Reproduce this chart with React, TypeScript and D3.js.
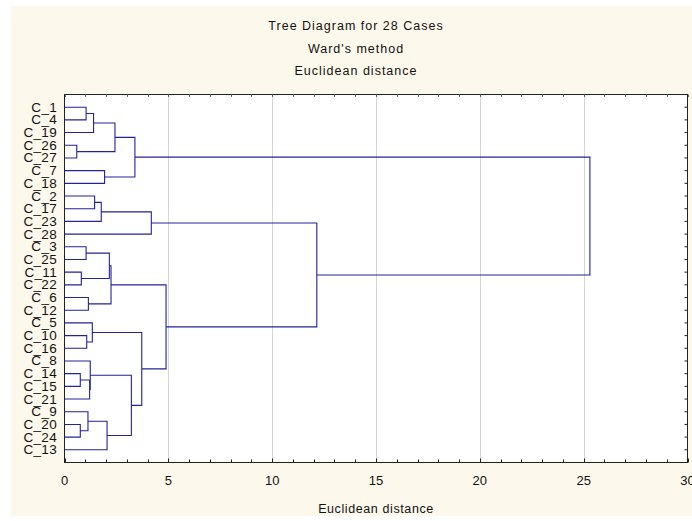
import React, { useEffect, useRef } from "react";
import * as d3 from "d3";

const leaves = ["C_1","C_4","C_19","C_26","C_27","C_7","C_18","C_2","C_17","C_23","C_28","C_3","C_25","C_11","C_22","C_6","C_12","C_5","C_10","C_16","C_8","C_14","C_15","C_21","C_9","C_20","C_24","C_13"];
// merges: ids 0..27 are leaves, merge k gets id 28+k
const mergeLeft =  [0, 28, 3, 29, 5, 31, 7, 34, 35, 11, 13, 37, 15, 39, 18, 17, 21, 44, 20, 25, 24, 48, 46, 43, 41, 36, 33];
const mergeRight = [1, 2, 4, 30, 6, 32, 8, 9, 10, 12, 14, 38, 16, 40, 19, 42, 22, 23, 45, 26, 47, 27, 49, 50, 51, 52, 53];
const mergeHeight = [1.04, 1.40, 0.59, 2.43, 1.93, 3.39, 1.45, 1.77, 4.18, 1.04, 0.81, 2.16, 1.15, 2.24, 1.07, 1.34, 0.76, 1.21, 1.24, 0.76, 1.13, 2.05, 3.22, 3.72, 4.89, 12.15, 25.3];
const xTicks = [0, 5, 10, 15, 20, 25, 30];
const titleLines = ["Tree Diagram for 28 Cases", "Ward's method", "Euclidean distance"];
const xAxisTitle = "Euclidean distance";

export default function App() {
  const ref = useRef<SVGSVGElement>(null);
  useEffect(() => {
    const svg = d3.select(ref.current);
    svg.selectAll("*").remove();
    const W = 692, H = 521;
    const L = 64.5, R = 687.5, T = 94.5, B = 462.5;
    const font = "'Liberation Sans', Arial, sans-serif";
    const line = "#22229c";

    svg.append("rect").attr("x", 0).attr("y", 0).attr("width", W).attr("height", H).attr("fill", "#ffffff");
    svg.append("rect").attr("x", 11).attr("y", 6).attr("width", W - 11).attr("height", 510).attr("fill", "#fdf8ec");
    svg.append("rect").attr("x", L).attr("y", T).attr("width", R - L).attr("height", B - T).attr("fill", "#ffffff");

    const x = d3.scaleLinear().domain([0, 30]).range([L, R]);
    const y = d3.scaleLinear().domain([-1, leaves.length]).range([T, B]);

    // gridlines
    svg.append("g").selectAll("line").data(xTicks.filter(t => t > 0 && t < 30)).join("line")
      .attr("x1", d => Math.round(x(d)) + 0.5).attr("x2", d => Math.round(x(d)) + 0.5)
      .attr("y1", T).attr("y2", B).attr("stroke", "#d4d4d4").attr("stroke-width", 1);

    // titles
    svg.append("g").selectAll("text").data(titleLines).join("text")
      .attr("x", 356).attr("y", (d, i) => 30 + i * 22.5)
      .attr("text-anchor", "middle").attr("font-family", font).attr("font-size", 12.5)
      .attr("letter-spacing", 1).attr("fill", "#111").text(d => d);

    // dendrogram
    const n = leaves.length;
    const nodeY: number[] = leaves.map((_, i) => i);
    const nodeH: number[] = leaves.map(() => 0);
    const p = d3.path();
    mergeLeft.forEach((a, k) => {
      const b = mergeRight[k];
      const h = mergeHeight[k];
      const ya = nodeY[a], yb = nodeY[b];
      p.moveTo(x(nodeH[a]), y(ya));
      p.lineTo(x(h), y(ya));
      p.lineTo(x(h), y(yb));
      p.lineTo(x(nodeH[b]), y(yb));
      nodeY[n + k] = (ya + yb) / 2;
      nodeH[n + k] = h;
    });
    svg.append("path").attr("d", p.toString()).attr("fill", "none").attr("stroke", line).attr("stroke-width", 1.1);

    // frame
    svg.append("rect").attr("x", L).attr("y", T).attr("width", R - L).attr("height", B - T)
      .attr("fill", "none").attr("stroke", "#222").attr("stroke-width", 1);

    // bottom axis ticks (inward)
    const minor = d3.range(0, 31);
    svg.append("g").selectAll("line").data(minor).join("line")
      .attr("x1", d => Math.round(x(d)) + 0.5).attr("x2", d => Math.round(x(d)) + 0.5)
      .attr("y1", B).attr("y2", d => B - (d % 5 === 0 ? 4 : 3)).attr("stroke", "#222");
    // top axis ticks (inward)
    svg.append("g").selectAll("line").data(minor).join("line")
      .attr("x1", d => Math.round(x(d)) + 0.5).attr("x2", d => Math.round(x(d)) + 0.5)
      .attr("y1", T).attr("y2", T + 2.5).attr("stroke", "#666");
    // right axis ticks
    svg.append("g").selectAll("line").data(leaves).join("line")
      .attr("x1", R).attr("x2", R - 3)
      .attr("y1", (d, i) => y(i)).attr("y2", (d, i) => y(i)).attr("stroke", "#222");

    // tick labels
    svg.append("g").selectAll("text").data(xTicks).join("text")
      .attr("x", d => x(d)).attr("y", 485).attr("text-anchor", "middle")
      .attr("font-family", font).attr("font-size", 13).attr("fill", "#111").text(d => String(d));

    // leaf labels
    svg.append("g").selectAll("text").data(leaves).join("text")
      .attr("x", 57).attr("y", (d, i) => y(i) + 4.5).attr("text-anchor", "end")
      .attr("font-family", font).attr("font-size", 13.5).attr("letter-spacing", 0.3).attr("fill", "#111").text(d => d);

    // x axis title
    svg.append("text").attr("x", (L + R) / 2).attr("y", 513).attr("text-anchor", "middle")
      .attr("font-family", font).attr("font-size", 12.5).attr("letter-spacing", 0.6).attr("fill", "#111").text(xAxisTitle);
  }, []);
  return (
    <svg ref={ref} width={692} height={521} style={{ position: "absolute", left: 0, top: 0, display: "block" }} />
  );
}
